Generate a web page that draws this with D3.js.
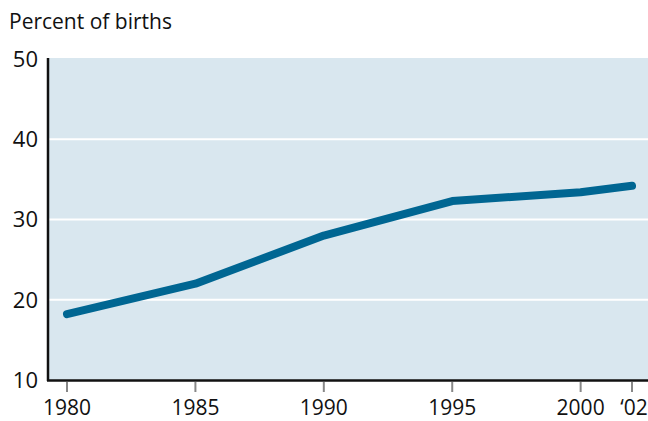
<!DOCTYPE html>
<html>
<head>
<meta charset="utf-8">
<script src="https://cdn.jsdelivr.net/npm/d3@7"></script>
<style>
  body { margin: 0; background: #fff; }
  text { font-family: "Open Sans", "Noto Sans", sans-serif; fill: #111; }
</style>
</head>
<body>
<svg width="648" height="421"></svg>
<script>
var years = [1980, 1985, 1990, 1995, 2000, 2002];
var values = [18.2, 22.0, 28.0, 32.3, 33.4, 34.2];
var tickLabels = ["1980", "1985", "1990", "1995", "2000", "\u201802"];
var yTicks = [10, 20, 30, 40, 50];

var svg = d3.select("svg"),
    margin = {top: 58, right: 0, bottom: 41, left: 48},
    width = 648 - margin.left - margin.right,
    height = 421 - margin.top - margin.bottom;

var x = d3.scaleLinear().domain([1980, 2002]).range([67, 632]);
var y = d3.scaleLinear().domain([10, 50]).range([380, 59]);

// plot background
svg.append("rect")
    .attr("x", margin.left)
    .attr("y", margin.top)
    .attr("width", width)
    .attr("height", 380 - margin.top)
    .attr("fill", "#d9e7ef");

// white gridlines
svg.selectAll(".grid")
    .data(yTicks.slice(1, 4))
    .enter()
    .append("line")
    .attr("x1", margin.left).attr("x2", 648)
    .attr("y1", d => y(d)).attr("y2", d => y(d))
    .attr("stroke", "#fff")
    .attr("stroke-width", 2);

// y labels
svg.selectAll(".ylab")
    .data(yTicks)
    .enter()
    .append("text")
    .attr("x", 38)
    .attr("y", d => y(d))
    .attr("dy", "0.36em")
    .attr("text-anchor", "end")
    .style("font-size", "22px")
    .text(d => d);

// x ticks
svg.selectAll(".xtick")
    .data(years)
    .enter()
    .append("line")
    .attr("x1", d => x(d)).attr("x2", d => x(d))
    .attr("y1", 382).attr("y2", 392)
    .attr("stroke", "#888")
    .attr("stroke-width", 2);

svg.selectAll(".xlab")
    .data(years)
    .enter()
    .append("text")
    .attr("x", (d, i) => i == years.length - 1 ? x(d) + 2 : x(d))
    .attr("y", 415)
    .attr("text-anchor", "middle")
    .style("font-size", "21px")
    .text((d, i) => tickLabels[i]);

// axes lines
svg.append("line")
    .attr("x1", 48).attr("x2", 48)
    .attr("y1", margin.top).attr("y2", 381)
    .attr("stroke", "#111").attr("stroke-width", 2.5);
svg.append("line")
    .attr("x1", 47).attr("x2", 648)
    .attr("y1", 380.5).attr("y2", 380.5)
    .attr("stroke", "#111").attr("stroke-width", 2.5);

// data line
var line = d3.line()
    .x((d, i) => x(years[i]))
    .y(d => y(d));

svg.append("path")
    .datum(values)
    .attr("d", line)
    .attr("fill", "none")
    .attr("stroke", "#006692")
    .attr("stroke-width", 8)
    .attr("stroke-linecap", "round")
    .attr("stroke-linejoin", "round");

svg.append("text")
    .attr("x", 9)
    .attr("y", 29)
    .style("font-size", "21px")
    .text("Percent of births");
</script>
</body>
</html>
